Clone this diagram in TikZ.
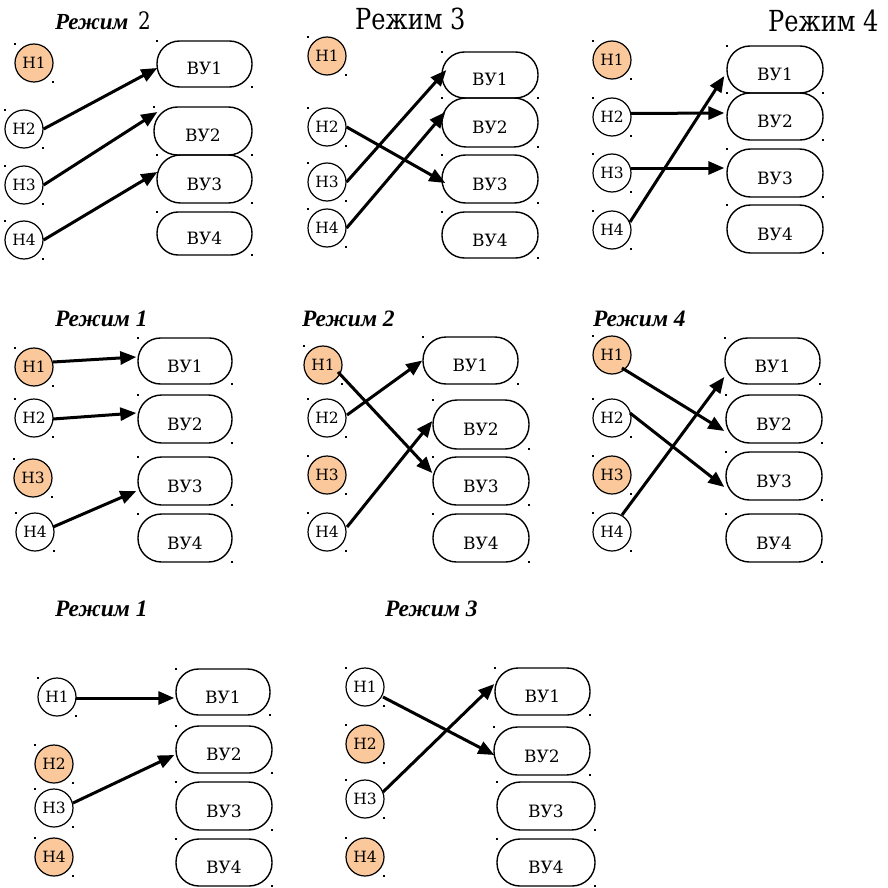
\documentclass[tikz,border=0pt]{standalone}
\usepackage{fontspec}
\setmainfont{Liberation Serif}
\newfontfamily\dvs{DejaVu Serif}[FakeStretch=0.83]
\newfontfamily\lblf{DejaVu Serif}
\usetikzlibrary{arrows.meta,calc}
\definecolor{hfill}{RGB}{250,200,155}
\tikzset{
 hnode/.style={circle,draw,line width=1.2pt,minimum size=38pt,inner sep=0pt,font=\lblf\fontsize{15.5}{15.5}\selectfont},
 hon/.style={hnode,fill=hfill},
 bnode/.style={draw,line width=1.4pt,inner sep=0pt,text height=22pt,text depth=0pt,font=\lblf\fontsize{17}{17}\selectfont},
 conn/.style={line width=3pt,-{Triangle[length=16pt,width=13pt]}},
 ttlbi/.style={font=\fontsize{23.5}{23.5}\selectfont\bfseries\itshape,anchor=base west,inner sep=0pt},
 ttlr/.style={font=\dvs\fontsize{29}{29}\selectfont,anchor=base west,inner sep=0pt},
}
\newcommand\Hn[5]{\node[#5] (#1) at (#2,#3) {#4};
 \fill (#2-20,#3-20) rectangle (#2-18,#3-18);
 \fill (#2+18,#3+18) rectangle (#2+20,#3+20);}
\newcommand\Bx[6]{\pgfmathsetmacro\bw{#4-#2}\pgfmathsetmacro\bh{#5-#3}\pgfmathsetmacro\br{(#5-#3)/2-0.5}%
 \node[bnode,minimum width=\bw pt,minimum height=\bh pt,rounded corners=\br pt] (#1) at ({(#2+#4)/2},{(#3+#5)/2}) {#6};
 \fill (#2-1,#3-1) rectangle (#2+1,#3+1);
 \fill (#4-1,#5-1) rectangle (#4+1,#5+1);}
\begin{document}
\begin{tikzpicture}[x=1pt,y=-1pt]
\useasboundingbox (0,0) rectangle (887,888);
% ---------- Panel A
\node[ttlbi,font=\fontsize{23}{23}\selectfont\bfseries\itshape] (ta) at (55,30) {Режим};
\node[font=\dvs\fontsize{24}{24}\selectfont,anchor=base west,inner sep=0pt] (ta2) at (138,30) {2};
\Hn{a1}{34}{63}{Н1}{hon}
\Hn{a2}{24}{129}{Н2}{hnode}
\Hn{a3}{24}{185}{Н3}{hnode}
\Hn{a4}{24}{240}{Н4}{hnode}
\Bx{ab1}{157}{41}{252}{87}{ВУ1}
\Bx{ab2}{154}{107}{252}{155}{ВУ2}
\Bx{ab3}{157}{155}{252}{203}{ВУ3}
\Bx{ab4}{157}{212}{252}{255}{ВУ4}
\draw[conn] (a2.east) -- ([shift={(1,4)}]ab1.west);
\draw[conn] (a3.east) -- ([shift={(4,-19)}]ab2.west);
\draw[conn] (a4.east) -- ([shift={(1,-7)}]ab3.west);
% ---------- Panel B
\node[ttlr] (tb) at (355,30) {Режим 3};
\Hn{b1}{327}{56}{Н1}{hon}
\Hn{b2}{327}{127}{Н2}{hnode}
\Hn{b3}{327}{182}{Н3}{hnode}
\Hn{b4}{327}{228}{Н4}{hnode}
\Bx{bb1}{442}{52}{538}{98}{ВУ1}
\Bx{bb2}{442}{98}{538}{147}{ВУ2}
\Bx{bb3}{442}{155}{538}{203}{ВУ3}
\Bx{bb4}{442}{212}{538}{258}{ВУ4}
\draw[conn] (b3.east) -- ([shift={(5,-5)}]bb1.west);
\draw[conn] (b4.east) -- ([shift={(4,-10.5)}]bb2.west);
\draw[conn] (b2.east) -- ([shift={(4,4)}]bb3.west);
% ---------- Panel C
\node[ttlr] (tc) at (768,32) {Режим 4};
\Hn{c1}{612}{60}{Н1}{hon}
\Hn{c2}{612}{117}{Н2}{hnode}
\Hn{c3}{612}{173}{Н3}{hnode}
\Hn{c4}{612}{230}{Н4}{hnode}
\Bx{cb1}{727}{46}{823}{93}{ВУ1}
\Bx{cb2}{727}{93}{823}{140}{ВУ2}
\Bx{cb3}{727}{149}{823}{197}{ВУ3}
\Bx{cb4}{727}{205}{823}{253}{ВУ4}
\draw[conn] ([shift={(19,-3.5)}]c2.center) -- ([shift={(-2,-3.5)}]cb2.west);
\draw[conn] ([shift={(19,-5)}]c3.center) -- ([shift={(-2,-5)}]cb3.west);
\draw[conn] ([shift={(18,-8)}]c4.center) -- ([shift={(-2,6.5)}]cb1.west);
% ---------- Panel D
\node[ttlbi] (td) at (55,326) {Режим 1};
\Hn{d1}{34}{367}{Н1}{hon}
\Hn{d2}{34}{418}{Н2}{hnode}
\Hn{d3}{33}{478}{Н3}{hon}
\Hn{d4}{35}{532}{Н4}{hnode}
\Bx{db1}{138}{338}{232}{384}{ВУ1}
\Bx{db2}{138}{395}{232}{443}{ВУ2}
\Bx{db3}{138}{457}{232}{505}{ВУ3}
\Bx{db4}{138}{514}{232}{562}{ВУ4}
\draw[conn] ([shift={(19,-5)}]d1.center) -- ([shift={(-1,-4)}]db1.west);
\draw[conn] ([shift={(19,1)}]d2.center) -- ([shift={(-1,-6)}]db2.west);
\draw[conn] ([shift={(18,-5)}]d4.center) -- ([shift={(-1,10)}]db3.west);
% ---------- Panel E
\node[ttlbi] (te) at (302,326) {Режим 2};
\Hn{e1}{323}{365}{Н1}{hon}
\Hn{e2}{327}{418}{Н2}{hnode}
\Hn{e3}{327}{475}{Н3}{hon}
\Hn{e4}{327}{532}{Н4}{hnode}
\Bx{eb1}{423}{337}{518}{384}{ВУ1}
\Bx{eb2}{433}{400}{529}{449}{ВУ2}
\Bx{eb3}{433}{457}{529}{505}{ВУ3}
\Bx{eb4}{433}{514}{529}{562}{ВУ4}
\draw[conn] ([shift={(20,-3)}]e2.center) -- (eb1.west);
\draw[conn] ([shift={(15,7)}]e1.center) -- ([shift={(0,-8)}]eb3.west);
\draw[conn] ([shift={(20,-5)}]e4.center) -- ([shift={(0,-3.5)}]eb2.west);
% ---------- Panel F
\node[ttlbi] (tf) at (593,326) {Режим 4};
\Hn{f1}{612}{355}{Н1}{hon}
\Hn{f2}{612}{418}{Н2}{hnode}
\Hn{f3}{612}{475}{Н3}{hon}
\Hn{f4}{612}{532}{Н4}{hnode}
\Bx{fb1}{725}{338}{820}{384}{ВУ1}
\Bx{fb2}{726}{395}{822}{443}{ВУ2}
\Bx{fb3}{726}{452}{822}{500}{ВУ3}
\Bx{fb4}{726}{514}{822}{562}{ВУ4}
\draw[conn] ([shift={(10,13)}]f1.center) -- ([shift={(-1,12)}]fb2.west);
\draw[conn] ([shift={(18,-5)}]f2.center) -- ([shift={(-1,11)}]fb3.west);
\draw[conn] ([shift={(10,-17)}]f4.center) -- ([shift={(0,16)}]fb1.west);
% ---------- Panel G
\node[ttlbi] (tg) at (55,616) {Режим 1};
\Hn{g1}{57}{697}{Н1}{hnode}
\Hn{g2}{54}{764}{Н2}{hon}
\Hn{g3}{54}{808}{Н3}{hnode}
\Hn{g4}{54}{857}{Н4}{hon}
\Bx{gb1}{176}{669}{270}{715}{ВУ1}
\Bx{gb2}{176}{726}{272}{773}{ВУ2}
\Bx{gb3}{176}{782}{272}{830}{ВУ3}
\Bx{gb4}{176}{839}{272}{886}{ВУ4}
\draw[conn] ([shift={(19,1)}]g1.center) -- ([shift={(-1,6)}]gb1.west);
\draw[conn] ([shift={(19,-5)}]g3.center) -- ([shift={(-1,5.5)}]gb2.west);
% ---------- Panel H
\node[ttlbi] (th) at (385,616) {Режим 3};
\Hn{h1}{365}{687}{Н1}{hnode}
\Hn{h2}{365}{744}{Н2}{hon}
\Hn{h3}{365}{799}{Н3}{hnode}
\Hn{h4}{365}{857}{Н4}{hon}
\Bx{hb1}{495}{668}{590}{715}{ВУ1}
\Bx{hb2}{494}{727}{590}{775}{ВУ2}
\Bx{hb3}{497}{782}{595}{830}{ВУ3}
\Bx{hb4}{497}{839}{595}{886}{ВУ4}
\draw[conn] ([shift={(18,10)}]h1.center) -- ([shift={(1,4)}]hb2.west);
\draw[conn] ([shift={(18,-7)}]h3.center) -- ([shift={(0,-7.5)}]hb1.west);
\end{tikzpicture}
\end{document}
